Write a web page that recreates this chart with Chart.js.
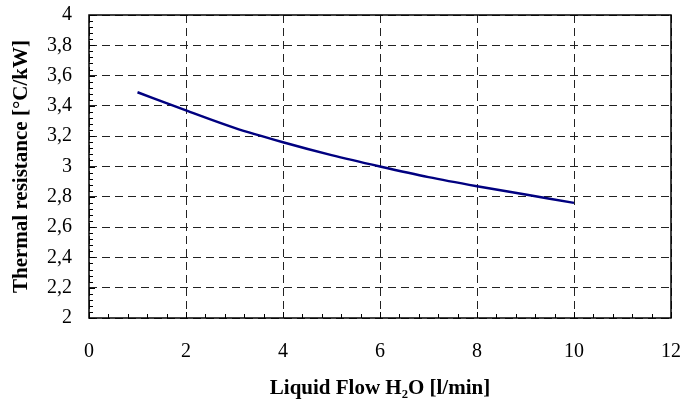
<!DOCTYPE html>
<html>
<head>
<meta charset="utf-8">
<script src="https://cdn.jsdelivr.net/npm/chart.js@4/dist/chart.umd.min.js"></script>
<style>
  html, body { margin: 0; padding: 0; background: #fff; }
  #wrap { width: 685px; height: 403px; position: relative; }
</style>
</head>
<body>
<div id="wrap"><canvas id="c"></canvas></div>
<script>
// ---- data ----
const flow = [1, 2, 3, 4, 5, 6, 7, 8, 9, 10];
const resistance = [3.49, 3.37, 3.255, 3.16, 3.075, 3.00, 2.93, 2.87, 2.815, 2.76];
const xTicks = [0, 2, 4, 6, 8, 10, 12];
const yTicks = [2, 2.2, 2.4, 2.6, 2.8, 3, 3.2, 3.4, 3.6, 3.8, 4];
const xTitle = 'Liquid Flow H\u2082O [l/min]';
const yTitle = 'Thermal resistance [\u00B0C/kW]';

const fmt = v => String(Math.round(v * 10) / 10).replace('.', ',');

const frame = {
  id: 'frame',
  afterDraw(chart) {
    const { ctx, chartArea: a, scales: { x, y } } = chart;
    ctx.save();
    ctx.strokeStyle = '#000';
    ctx.lineWidth = 1;
    ctx.beginPath();
    // x minor ticks every 0.4, inward
    for (let i = 0; i <= 30; i++) {
      const v = i * 0.4;
      const px = Math.round(x.getPixelForValue(v)) + 0.5;
      const len = (i % 5 === 0) ? 6 : 4;
      ctx.moveTo(px, a.bottom);
      ctx.lineTo(px, a.bottom - len);
    }
    // y minor ticks every 0.04, inward
    for (let i = 0; i <= 50; i++) {
      const v = 2 + i * 0.04;
      const py = Math.round(y.getPixelForValue(v)) + 0.5;
      const len = (i % 5 === 0) ? 6 : 4;
      ctx.moveTo(a.left, py);
      ctx.lineTo(a.left + len, py);
    }
    ctx.stroke();
    ctx.lineWidth = 1.5;
    ctx.strokeRect(a.left, a.top, a.right - a.left, a.bottom - a.top);
    ctx.restore();
  }
};

new Chart(document.getElementById('c'), {
  type: 'line',
  data: {
    datasets: [{
      data: flow.map((f, i) => ({ x: f, y: resistance[i] })),
      borderColor: '#000080',
      borderWidth: 2.5,
      pointRadius: 0,
      fill: false,
      cubicInterpolationMode: 'monotone'
    }]
  },
  options: {
    responsive: true,
    maintainAspectRatio: false,
    animation: false,
    layout: { padding: { top: 15, right: 14, left: 0, bottom: 0 } },
    plugins: { legend: { display: false }, tooltip: { enabled: false } },
    scales: {
      x: {
        type: 'linear',
        min: 0, max: 12,
        afterBuildTicks: s => { s.ticks = xTicks.map(v => ({ value: v })); },
        afterFit: s => { s.height = 85; s.paddingLeft = 0; s.paddingRight = 0; },
        ticks: {
          color: '#000',
          padding: 22,
          maxRotation: 0,
          font: { family: '"Liberation Serif", "Times New Roman", serif', size: 20 },
          callback: v => fmt(v)
        },
        grid: {
          color: '#222',
          lineWidth: 1,
          drawTicks: false
        },
        border: { display: false, dash: [8, 5] },
        title: {
          display: true,
          text: xTitle,
          color: '#000',
          padding: { top: 0, bottom: 2 },
          font: { family: '"Liberation Serif", "Times New Roman", serif', size: 21, weight: 'bold' }
        }
      },
      y: {
        type: 'linear',
        min: 2, max: 4,
        afterBuildTicks: s => { s.ticks = yTicks.map(v => ({ value: v })); },
        afterFit: s => { s.width = 89; s.paddingTop = 0; s.paddingBottom = 0; },
        ticks: {
          color: '#000',
          padding: 17,
          font: { family: '"Liberation Serif", "Times New Roman", serif', size: 20 },
          callback: v => fmt(v)
        },
        grid: {
          color: '#222',
          lineWidth: 1,
          drawTicks: false
        },
        border: { display: false, dash: [8, 5] },
        title: {
          display: true,
          text: yTitle,
          color: '#000',
          padding: { top: 9, bottom: 0 },
          font: { family: '"Liberation Serif", "Times New Roman", serif', size: 21, weight: 'bold' }
        }
      }
    }
  },
  plugins: [frame]
});
</script>
</body>
</html>
